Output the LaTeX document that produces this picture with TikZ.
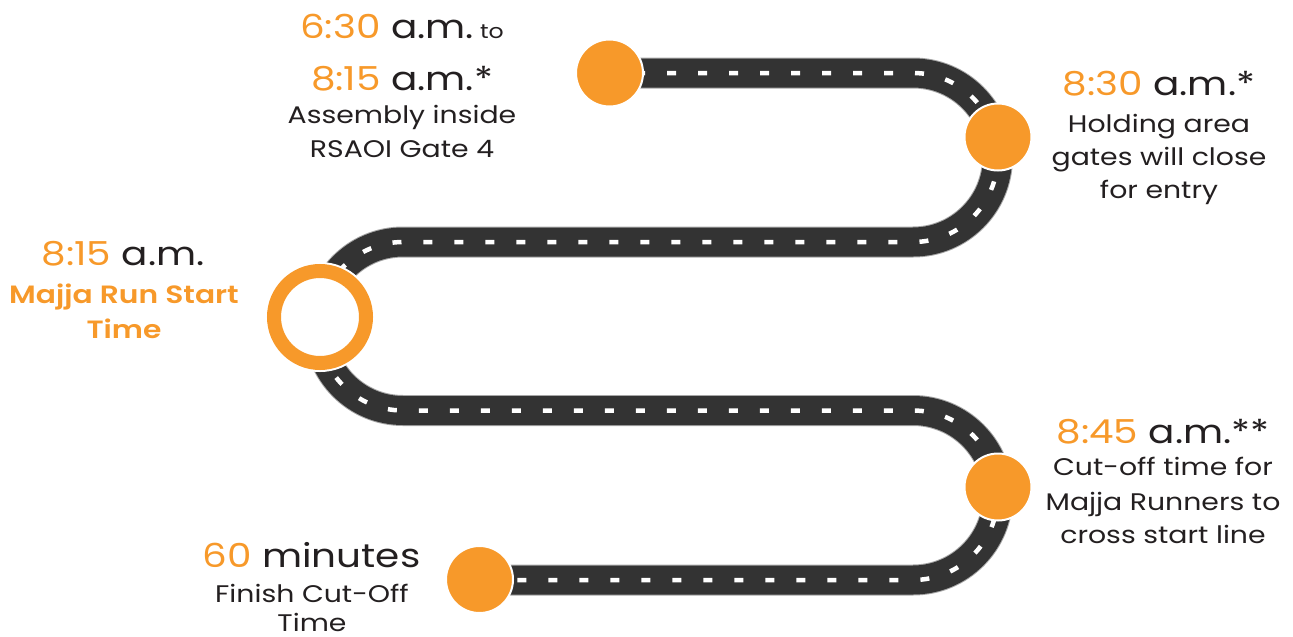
\documentclass[tikz,border=0pt]{standalone}
\usepackage{fontspec}
\setmainfont{Poppins}[FakeStretch=1.18]
\newfontfamily\popsemi{Poppins SemiBold}[FakeStretch=1.19]
\definecolor{orng}{HTML}{F7992A}
\definecolor{roadc}{HTML}{333333}
\definecolor{txt}{HTML}{231F20}
\begin{document}
\begin{tikzpicture}[x=1pt,y=-1pt,
  roadbase/.style={line width=31pt, draw=gray!70},
  roadtop/.style={line width=29pt, draw=roadc},
  roaddash/.style={line width=4.5pt, draw=white, dash pattern=on 9pt off 22pt, dash phase=4pt},
  dot/.style={circle, fill=orng, draw=white, line width=2pt, minimum size=67pt, inner sep=0pt},
  ring/.style={circle, fill=white, draw=orng, line width=14pt, minimum size=92pt, inner sep=0pt,
     preaction={draw=white, line width=18pt}},
  big/.style={anchor=base, text=txt, font=\fontsize{33}{33}\selectfont},
  body/.style={anchor=base, text=txt, font=\fontsize{24}{24}\selectfont}]
\useasboundingbox (0,0) rectangle (1293,637);
\def\roadpath{(609,73) -- (913,73) arc[start angle=-90, end angle=90, radius=84.5]
  -- (403,242) arc[start angle=-90, end angle=-270, radius=84.25]
  -- (913,410.5) arc[start angle=-90, end angle=90, radius=84.75] -- (480,580)}
\draw[roadbase] \roadpath;
\draw[roadtop] \roadpath;
\draw[roaddash] \roadpath;
\node[dot] (d1) at (609.5,73) {};
\node[dot] (d2) at (998,137) {};
\node[ring] (d3) at (320,317) {};
\node[dot] (d4) at (998,487) {};
\node[dot] (d5) at (479.5,579.5) {};
% block 1
\node[big] (t1a) at (402,38) {{\color{orng}6:30} a.m.{\fontsize{20}{20}\selectfont\ to}};
\node[big] (t1b) at (402,90) {{\color{orng}8:15} a.m.*};
\node[body] (t1c) at (402,123) {Assembly inside};
\node[body] (t1d) at (402,157) {RSAOI Gate 4};
% block 2
\node[big] (t2a) at (1159,95) {{\color{orng}8:30} a.m.*};
\node[body] (t2b) at (1159,132) {Holding area};
\node[body] (t2c) at (1159,165) {gates will close};
\node[body] (t2d) at (1159,198) {for entry};
% block 3
\node[big] (t3a) at (123,265) {{\color{orng}8:15} a.m.};
\node[body, text=orng, font=\popsemi\fontsize{25}{25}\selectfont] (t3b) at (124,303) {Majja Run Start};
\node[body, text=orng, font=\popsemi\fontsize{25}{25}\selectfont] (t3c) at (124,338) {Time};
% block 4
\node[big] (t4a) at (1163,443) {{\color{orng}8:45} a.m.**};
\node[body] (t4b) at (1163,475) {Cut-off time for};
\node[body] (t4c) at (1163,510) {Majja Runners to};
\node[body] (t4d) at (1163,543) {cross start line};
% block 5
\node[big] (t5a) at (311.5,567) {{\color{orng}60} minutes};
\node[body] (t5b) at (312,602) {Finish Cut-Off};
\node[body] (t5c) at (312,631) {Time};
\end{tikzpicture}
\end{document}
